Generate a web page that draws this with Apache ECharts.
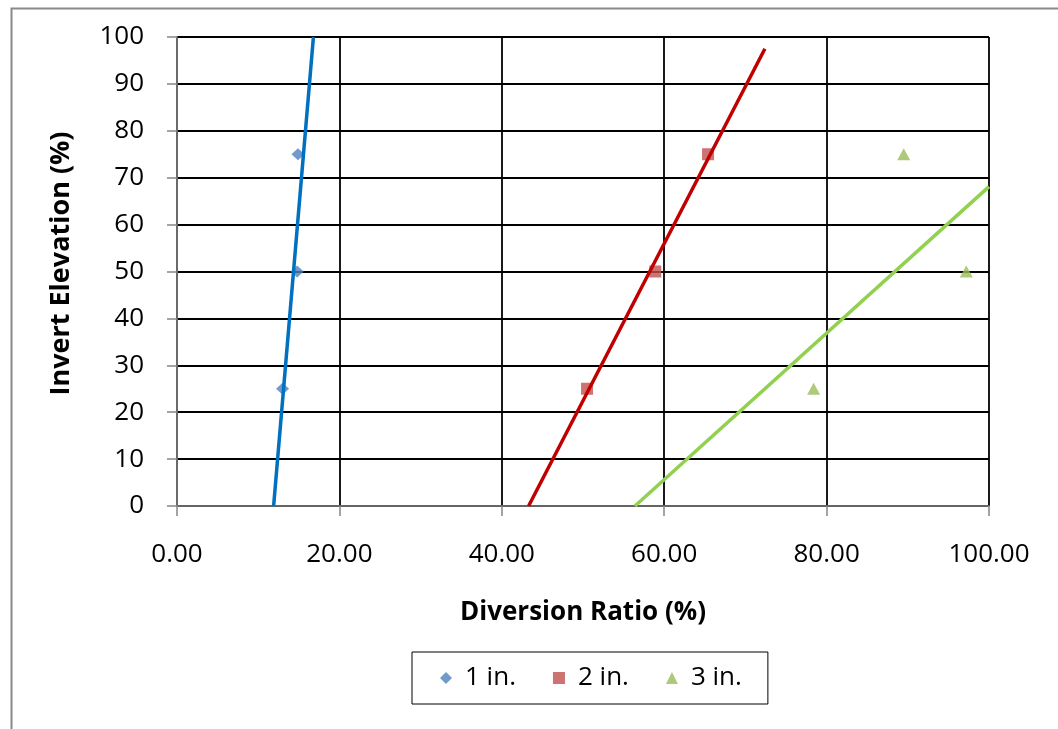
<!DOCTYPE html>
<html>
<head>
<meta charset="utf-8">
<script src="https://cdn.jsdelivr.net/npm/echarts@6/dist/echarts.min.js"></script>
<style>
html,body{margin:0;padding:0;background:#fff;}
#chart{width:1058px;height:729px;}
</style>
</head>
<body>
<div id="chart"></div>
<script>
// Measured values
const elevations = [25, 50, 75];
const oneInRatio = [13.0, 14.8, 14.9];
const twoInRatio = [50.5, 58.9, 65.4];
const threeInRatio = [78.4, 97.2, 89.5];
// Trend line endpoints [ratio, elevation]
const oneInTrend = [[11.9, 0], [16.8, 100]];
const twoInTrend = [[43.3, 0], [72.4, 97.5]];
const threeInTrend = [[56.4, 0], [100, 68.1]];
const seriesNames = ['1 in.', '2 in.', '3 in.'];
const xTicks = [0, 20, 40, 60, 80, 100];
const yTicks = [0, 10, 20, 30, 40, 50, 60, 70, 80, 90, 100];

const FONT = '"Open Sans", sans-serif';
const pts = (xs) => xs.map((x, i) => [x, elevations[i]]);

const chart = echarts.init(document.getElementById('chart'), null, {renderer: 'canvas'});
chart.setOption({
  backgroundColor: '#fff',
  animation: false,
  graphic: [{
    type: 'rect', left: 9, top: 6, z: -10,
    shape: {x: 0, y: 0, width: 1200, height: 900},
    style: {fill: 'none', stroke: '#898989', lineWidth: 2}
  }],
  grid: {left: 177, top: 37, right: 69, bottom: 223, containLabel: false},
  legend: {
    data: seriesNames,
    left: 412, top: 652,
    orient: 'horizontal',
    padding: [13, 26, 13, 28],
    borderColor: '#000', borderWidth: 1,
    itemGap: 37, itemWidth: 12, itemHeight: 12,
    textStyle: {fontFamily: FONT, fontSize: 26, color: '#000', padding: [0, 0, 0, 8]}
  },
  xAxis: {
    type: 'value', min: xTicks[0], max: xTicks[xTicks.length - 1], interval: 20,
    name: 'Diversion Ratio (%)', nameLocation: 'middle', nameGap: 94,
    nameTextStyle: {fontFamily: FONT, fontSize: 26, fontWeight: 'bold', color: '#000'},
    axisLine: {show: true, onZero: false, lineStyle: {color: '#868686', width: 1.5}},
    axisTick: {show: true, length: 10, lineStyle: {color: '#868686', width: 1.5}},
    axisLabel: {fontFamily: FONT, fontSize: 26, color: '#000', margin: 36,
      formatter: (v) => v.toFixed(2)},
    splitLine: {show: true, lineStyle: {color: '#000', width: 1.8}}
  },
  yAxis: {
    type: 'value', min: yTicks[0], max: yTicks[yTicks.length - 1], interval: 10,
    name: 'Invert Elevation (%)', nameLocation: 'middle', nameGap: 102,
    nameTextStyle: {fontFamily: FONT, fontSize: 27, fontWeight: 'bold', color: '#000', padding: [0, 0, 0, 16]},
    axisLine: {show: true, onZero: false, lineStyle: {color: '#868686', width: 1.5}},
    axisTick: {show: true, length: 10, lineStyle: {color: '#868686', width: 1.5}},
    axisLabel: {fontFamily: FONT, fontSize: 26, color: '#000', margin: 33},
    splitLine: {show: true, lineStyle: {color: '#000', width: 1.8}}
  },
  series: [
    {name: seriesNames[0], type: 'scatter', data: pts(oneInRatio), symbol: 'diamond', symbolSize: [13, 12],
      itemStyle: {color: '#4F81BD'}, z: 2},
    {name: seriesNames[1], type: 'scatter', data: pts(twoInRatio), symbol: 'rect', symbolSize: 12,
      itemStyle: {color: '#C0504D'}, z: 2},
    {name: seriesNames[2], type: 'scatter', data: pts(threeInRatio), symbol: 'triangle', symbolSize: [13, 12],
      itemStyle: {color: '#9BBB59'}, z: 2},
    {name: '1 in. trend', type: 'line', data: oneInTrend, showSymbol: false, symbol: 'none',
      lineStyle: {color: '#0070C0', width: 3.5}, z: 3},
    {name: '2 in. trend', type: 'line', data: twoInTrend, showSymbol: false, symbol: 'none',
      lineStyle: {color: '#C00000', width: 3.5}, z: 3},
    {name: '3 in. trend', type: 'line', data: threeInTrend, showSymbol: false, symbol: 'none',
      lineStyle: {color: '#92D050', width: 3.5}, z: 3}
  ]
});
</script>
</body>
</html>
